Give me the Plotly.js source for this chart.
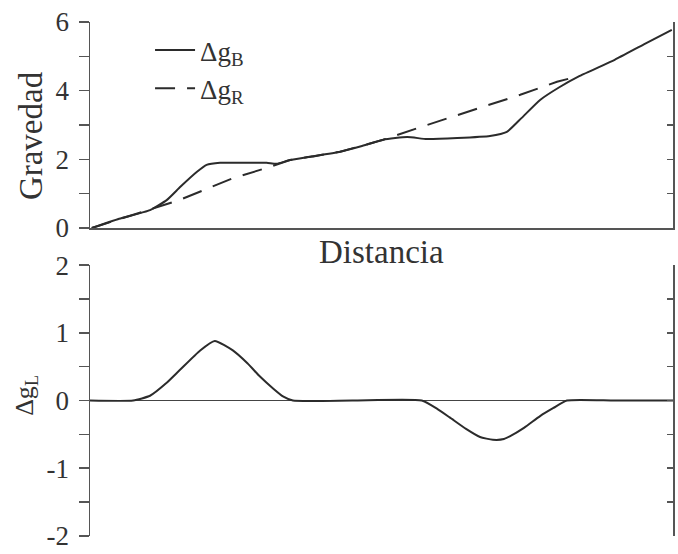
<!DOCTYPE html>
<html>
<head>
<meta charset="utf-8">
<script src="https://cdn.plot.ly/plotly-3.0.1.min.js"></script>
<style>html,body{margin:0;padding:0;background:#fff;}</style>
</head>
<body>
<div id="chart" style="width:678px;height:554px;"></div>
<script>
// Top panel: Bouguer anomaly (solid) and regional (dashed)
const xB = [0.3, 5, 10.3, 13.2, 15.5, 18.3, 20, 22.3, 26, 30.3, 32, 34.3, 38, 42.9, 46.5, 50.3, 54.4, 57.8, 63, 68.6, 71.5, 74, 77.2, 80.5, 84, 90, 95, 99.8];
const yB = [0, 0.27, 0.52, 0.82, 1.2, 1.63, 1.84, 1.9, 1.9, 1.9, 1.87, 1.98, 2.08, 2.22, 2.38, 2.57, 2.65, 2.59, 2.62, 2.68, 2.8, 3.2, 3.73, 4.1, 4.43, 4.9, 5.35, 5.77];
const xR = [0.3, 10.3, 15.4, 24.5, 30.3, 34.3, 42.9, 50.3, 56, 67.4, 73.8, 80.1, 84];
const yR = [0, 0.55, 0.82, 1.45, 1.75, 1.98, 2.22, 2.57, 2.9, 3.53, 3.88, 4.26, 4.43];
// Bottom panel: local (residual) anomaly
const xL = [0, 7.4, 10.3, 13, 15.4, 18.9, 21.4, 24.5, 27, 29.2, 31.5, 33.1, 34.8, 45, 56.9, 59.5, 61.7, 64.5, 66.9, 69.1, 71, 72, 74.5, 77.2, 79.5, 81.8, 90, 100];
const yL = [0, 0, 0.07, 0.25, 0.45, 0.74, 0.88, 0.74, 0.55, 0.35, 0.17, 0.06, 0, 0, 0, -0.12, -0.25, -0.42, -0.54, -0.58, -0.57, -0.53, -0.4, -0.23, -0.11, 0, 0, 0];

// Tick label values (major) and tick spacing (major / minor)
const topTickVals = [0, 2, 4, 6];
const topTickText = ['0', '2', '4', '6'];
const botTickVals = [-2, -1, 0, 1, 2];
const botTickText = ['-2', '-1', '0', '1', '2'];
const topMinorStep = 1;
const botMinorStep = 0.5;

const nameB = 'Δg<sub>B</sub>';
const nameR = 'Δg<sub>R</sub>';
const titleTop = 'Gravedad';
const titleBot = 'Δg<sub>L</sub>';
const titleX = 'Distancia';

const lineCol = '#2b2b2b';
const axCol = '#555';
const serif = 'Times New Roman, Liberation Serif, DejaVu Serif, serif';

const traces = [
  {x: xB, y: yB, type: 'scatter', mode: 'lines', name: nameB, xaxis: 'x', yaxis: 'y',
   line: {color: lineCol, width: 2, shape: 'spline', smoothing: 0.5}, hoverinfo: 'skip'},
  {x: xR, y: yR, type: 'scatter', mode: 'lines', name: nameR, xaxis: 'x', yaxis: 'y',
   line: {color: lineCol, width: 2, dash: '20px,12px'}, hoverinfo: 'skip'},
  {x: xL, y: yL, type: 'scatter', mode: 'lines', name: 'L', xaxis: 'x2', yaxis: 'y2', showlegend: false,
   line: {color: lineCol, width: 2, shape: 'spline', smoothing: 0.5}, hoverinfo: 'skip'},
  // empty traces so the right-hand (inside-tick) axes are created
  {x: [], y: [], type: 'scatter', mode: 'lines', xaxis: 'x', yaxis: 'y3', showlegend: false, hoverinfo: 'skip'},
  {x: [], y: [], type: 'scatter', mode: 'lines', xaxis: 'x2', yaxis: 'y4', showlegend: false, hoverinfo: 'skip'}
];

const yAxBase = {showgrid: false, showline: true, linecolor: axCol, linewidth: 1.5,
  ticks: 'outside', ticklen: 10, tickcolor: axCol, tickwidth: 1.5, ticklabelstandoff: 4,
  ticklabeloverflow: 'allow', fixedrange: true};
const rAxBase = {showgrid: false, showline: true, linecolor: axCol, linewidth: 1.5, side: 'right',
  ticks: 'inside', ticklen: 6, tickcolor: axCol, tickwidth: 1.5, showticklabels: false, zeroline: false, fixedrange: true};
const minorOut = {ticks: 'outside', ticklen: 10, tickcolor: axCol, tickwidth: 1.5, showgrid: false};
const minorIn = {ticks: 'inside', ticklen: 6, tickcolor: axCol, tickwidth: 1.5, showgrid: false};

const layout = {
  width: 678, height: 554,
  margin: {l: 90, r: 5, t: 0, b: 18},
  paper_bgcolor: '#fff', plot_bgcolor: '#fff',
  font: {family: serif, color: '#333', size: 27},
  showlegend: true,
  legend: {x: 0.103, y: 0.9515, xanchor: 'left', yanchor: 'top', bgcolor: 'rgba(0,0,0,0)',
    font: {family: serif, size: 27, color: '#333'}, tracegroupgap: 0, itemwidth: 40},
  xaxis: {domain: [0, 1], range: [0, 100], anchor: 'y', showline: true, linecolor: axCol, linewidth: 1.5,
    showticklabels: false, ticks: '', showgrid: false, zeroline: false, fixedrange: true},
  yaxis: Object.assign({}, yAxBase, {domain: [0.5746, 0.959], range: [0, 6.001], anchor: 'x',
    tickmode: 'array', tickvals: topTickVals, ticktext: topTickText, zeroline: false,
    minor: Object.assign({dtick: topMinorStep, tick0: 0}, minorOut)}),
  yaxis3: Object.assign({}, rAxBase, {overlaying: 'y', anchor: 'x', range: [0, 6.001],
    tickmode: 'linear', tick0: 0, dtick: topMinorStep}),
  xaxis2: {domain: [0, 1], range: [0, 100], anchor: 'y2', showline: false, showticklabels: false,
    ticks: '', showgrid: false, zeroline: false, fixedrange: true},
  yaxis2: Object.assign({}, yAxBase, {domain: [0, 0.5056], range: [-2.003, 2.003], anchor: 'x2',
    tickmode: 'array', tickvals: botTickVals, ticktext: botTickText,
    zeroline: true, zerolinecolor: '#444', zerolinewidth: 1.5,
    minor: Object.assign({dtick: botMinorStep, tick0: 0}, minorOut)}),
  yaxis4: Object.assign({}, rAxBase, {overlaying: 'y2', anchor: 'x2', range: [-2.003, 2.003],
    tickmode: 'linear', tick0: 0, dtick: botMinorStep}),
  annotations: [
    {text: titleTop, xref: 'paper', yref: 'paper', x: -0.101, y: 0.7463, xanchor: 'center', yanchor: 'middle',
     textangle: -90, showarrow: false, font: {family: serif, size: 33, color: '#333'}},
    {text: titleBot, xref: 'paper', yref: 'paper', x: -0.11, y: 0.2631, xanchor: 'center', yanchor: 'middle',
     textangle: -90, showarrow: false, font: {family: serif, size: 26, color: '#333'}},
    {text: titleX, xref: 'paper', yref: 'paper', x: 0.5, y: 0.5299, xanchor: 'center', yanchor: 'middle',
     showarrow: false, font: {family: serif, size: 33, color: '#333'}}
  ]
};

Plotly.newPlot('chart', traces, layout, {displayModeBar: false, staticPlot: true});
</script>
</body>
</html>
